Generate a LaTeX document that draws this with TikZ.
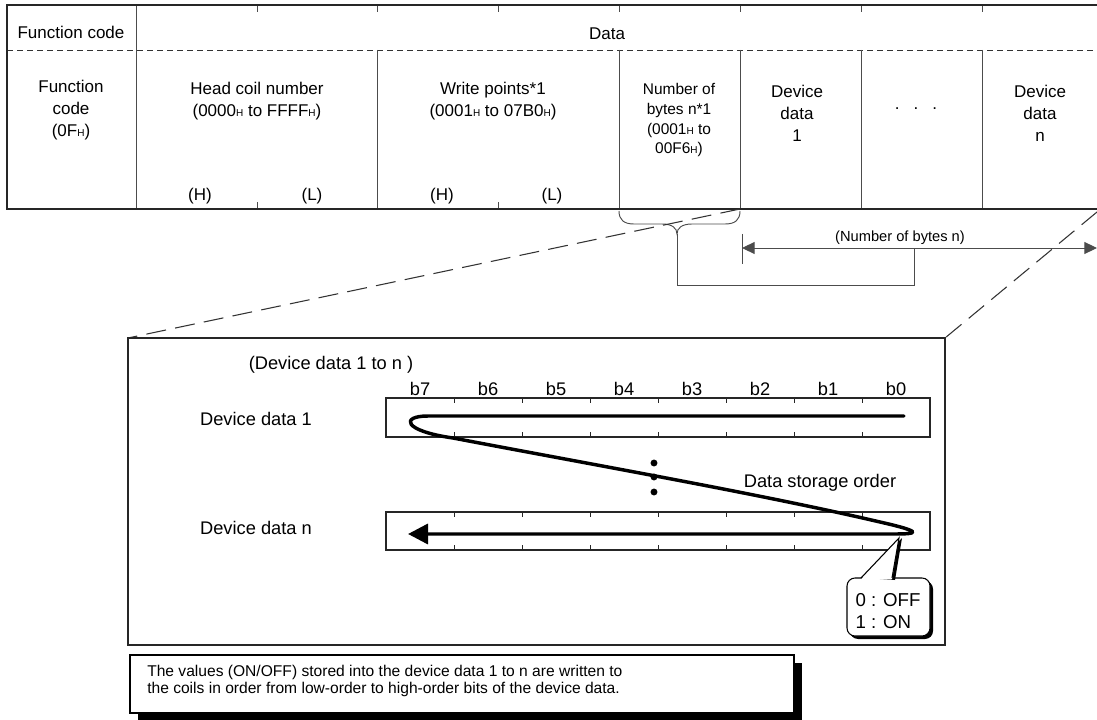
\documentclass[tikz,border=0pt]{standalone}
\usepackage{fontspec}
\setmainfont{Liberation Sans}
\usetikzlibrary{arrows.meta}
\newcommand{\Hsm}{{\fontsize{7.5}{8}\selectfont H}}
\tikzset{
  outer/.style={line width=1.3pt, black!85},
  inner/.style={line width=0.7pt, black!70},
  txt/.style={font=\fontsize{12.75}{16.5}\selectfont, align=center, inner sep=0pt},
  txts/.style={font=\fontsize{11.6}{15}\selectfont, align=center, inner sep=0pt},
  big/.style={font=\fontsize{13.7}{16}\selectfont, inner sep=0pt},
  regline/.style={line width=1pt, black!85},
  flow/.style={line width=2.6pt, line cap=round, line join=round},
  zoomline/.style={line width=0.8pt, black!80, dash pattern=on 15pt off 7pt},
}
\begin{document}
\begin{tikzpicture}[x=0.75pt, y=-0.75pt]
\useasboundingbox (0,0) rectangle (1097,720);

% ---------------- top table ----------------
\draw[dash pattern=on 4.5pt off 3pt, line width=0.7pt, black!80] (7,50) -- (1097,50);
\draw[inner] (136,5) -- (136,209);
\foreach \x in {377,619,740,861,982} \draw[inner] (\x,50) -- (\x,209);
\foreach \x in {257,377,498,619,740,861,982} \draw[inner] (\x,5) -- (\x,12);
\foreach \x in {257,498} \draw[inner] (\x,209) -- (\x,202);
\draw[outer] (1097,5) -- (7,5) -- (7,209) -- (1097,209);

\node[txt] (fc) at (71,32) {Function code};
\node[txt] (data) at (607,34) {Data};
\node[txt] (fc2) at (71,110) {Function\\code\\(0F\Hsm)};
\node[txt] (head) at (257,101) {Head coil number\\(0000\Hsm{} to FFFF\Hsm)};
\node[txt] (hH) at (200,196) {(H)};
\node[txt] (hL) at (312,196) {(L)};
\node[txt] (wp) at (493,101) {Write points*1\\(0001\Hsm{} to 07B0\Hsm)};
\node[txt] (wH) at (442,196) {(H)};
\node[txt] (wL) at (552,196) {(L)};
\node[txts] (nb) at (679,120) {Number of\\bytes n*1\\(0001\Hsm{} to\\ 00F6\Hsm)};
\node[txt] (dd1) at (797,113) {Device\\data\\1};
\node[txt, anchor=base] (dots) at (916,110) {.\hspace{10.5pt}.\hspace{10.5pt}.};
\node[txt] (ddn) at (1040,113) {Device\\data\\n};

% ---------------- brace and byte count ----------------
\coordinate (brtip) at (677,234);
\draw[inner] (619,211) .. controls (619,220) and (624,224) .. (634,224) -- (662,224)
  .. controls (672,224) and (677,228) .. (brtip)
  .. controls (677,228) and (682,224) .. (692,224) -- (725,224)
  .. controls (735,224) and (740,220) .. (740,211);
\coordinate (nbL) at (742,248);
\coordinate (nbR) at (1097,248);
\coordinate (nbJ) at (914,248);
\draw[inner] (742,234) -- (742,264);
\draw[inner, {Triangle[length=9.5pt,width=9pt]}-{Triangle[length=9.5pt,width=9pt]}] (nbL) -- (nbR);
\draw[inner] (brtip) -- (677,285) -| (nbJ);
\node[font=\fontsize{11}{13}\selectfont, inner sep=0pt] (nblbl) at (900,238) {(Number of bytes n)};

% ---------------- zoom lines ----------------
\coordinate (tl) at (128,338);
\coordinate (tr) at (945,338);
\draw[zoomline] (740,209) -- (tl);
\draw[zoomline] (1097,212) -- (tr);

% ---------------- detail box ----------------
\draw[line width=1.1pt, black!85] (tl) rectangle (945,645);
\node[big] (dlabel) at (331,365) {(Device data 1 to n )};
\foreach \k/\b in {0/b7,1/b6,2/b5,3/b4,4/b3,5/b2,6/b1,7/b0}
  \node[big] (bit\k) at ({420+68*\k},389) {\b};
\node[big] (lbl1) at (256,419) {Device data 1};
\node[big] (lbln) at (256,528) {Device data n};

\node[draw, regline, inner sep=0pt, minimum width=408pt, minimum height=29.25pt] (r1) at (658,417.5) {};
\node[draw, regline, inner sep=0pt, minimum width=408pt, minimum height=28.5pt] (rn) at (658,531) {};
\foreach \x in {454,522,590,658,726,794,862} {
  \draw[regline, line width=0.7pt] (\x,398) -- (\x,403);
  \draw[regline, line width=0.7pt] (\x,437) -- (\x,432);
  \draw[regline, line width=0.7pt] (\x,512) -- (\x,517);
  \draw[regline, line width=0.7pt] (\x,550) -- (\x,545);
}

\draw[flow, -{Triangle[length=15pt,width=15pt]}] (904,416) -- (428,416)
  .. controls (400,416) and (403,431) .. (453,438)
  .. controls (600,466) and (760,494) .. (880,522)
  .. controls (924,532) and (918,534) .. (895,534) -- (408,534);

\foreach \yy in {463,477,492} \fill (654,\yy) circle[radius=2.6pt];
\node[big] (dso) at (820,483) {Data storage order};

% ---------------- speech bubble ----------------
\fill[black] (850,581) [rounded corners=6pt] rectangle (933,639);
\draw[line width=0.8pt, fill=white, rounded corners=6pt] (847,578) rectangle (930,636);
\fill[black] (865,578) -- (902,538) -- (895,580) -- cycle;
\fill[white] (861,579.4) -- (899,538) -- (892,579.4) -- cycle;
\draw[line width=0.8pt] (861,578) -- (899,538) -- (892,578);
\node[font=\fontsize{14}{16.5}\selectfont, align=left, inner sep=0pt] (bub) at (888,611) {0 : OFF\\1 : ON};

% ---------------- note box ----------------
\fill[black] (138,663) rectangle (802,721);
\draw[line width=0.8pt, fill=white] (130,655) rectangle (794,713);
\node[font=\fontsize{11.7}{13}\selectfont, align=left, anchor=west, inner sep=0pt] (note) at (147,681)
  {The values (ON/OFF) stored into the device data 1 to n are written to\\
   the coils in order from low-order to high-order bits of the device data.};
\end{tikzpicture}
\end{document}
